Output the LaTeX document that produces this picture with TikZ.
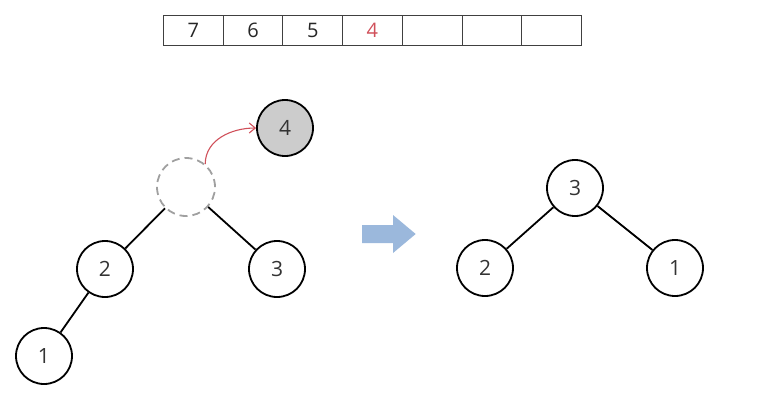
\documentclass[tikz,border=0pt]{standalone}
\usepackage{fontspec}
\setmainfont{Open Sans}
\usetikzlibrary{arrows.meta}
\definecolor{redarr}{HTML}{D0505A}
\definecolor{blockblue}{HTML}{9BB8DC}
\definecolor{nodegray}{HTML}{CCCCCC}
\definecolor{dashgray}{HTML}{A0A0A0}
\tikzset{
  tnode/.style={circle,draw=black,line width=1.8pt,minimum size=56pt,inner sep=0pt,font=\fontsize{21}{21}\selectfont\color{black!80}},
  cellbox/.style={draw=black!75,line width=1pt,minimum width=59.7pt,minimum height=30pt,inner sep=0pt,anchor=north west,font=\fontsize{20}{20}\selectfont\color{black!85}},
  edge/.style={line width=1.8pt}
}
\begin{document}
\begin{tikzpicture}[x=1pt,y=-1pt]
\useasboundingbox (0,0) rectangle (773,402);
% array
\node[cellbox] (c1) at (163,15) {7};
\node[cellbox] (c2) at (222.7,15) {6};
\node[cellbox] (c3) at (282.4,15) {5};
\node[cellbox,text=redarr] (c4) at (342.1,15) {4};
\node[cellbox] (c5) at (401.8,15) {};
\node[cellbox] (c6) at (461.5,15) {};
\node[cellbox] (c7) at (521.2,15) {};
% left tree
\node[tnode,draw=dashgray,dashed,dash pattern=on 8pt off 5pt,line width=1.8pt,minimum size=58pt] (d) at (186,187) {};
\node[tnode,fill=nodegray] (n4) at (285,128) {4};
\node[tnode] (l2) at (105,269) {2};
\node[tnode] (l3) at (277,269) {3};
\node[tnode] (l1) at (44,356) {1};
\draw[edge] (d) -- (l2);
\draw[edge] (d) -- (l3);
\draw[edge] (l2) -- (l1);
\draw[redarr,line width=1.1pt,-{Straight Barb[length=6pt,width=10pt]}] (d.50) to[out=90,in=180] (n4.west);
% block arrow
\fill[blockblue] (362,225) -- (393,225) -- (393,215) -- (415.7,234) -- (393,253) -- (393,243) -- (362,243) -- cycle;
% right tree
\node[tnode] (r3) at (575,188) {3};
\node[tnode] (r2) at (485,268) {2};
\node[tnode] (r1) at (675,268) {1};
\draw[edge] (r3) -- (r2);
\draw[edge] (r3) -- (r1);
\end{tikzpicture}
\end{document}
